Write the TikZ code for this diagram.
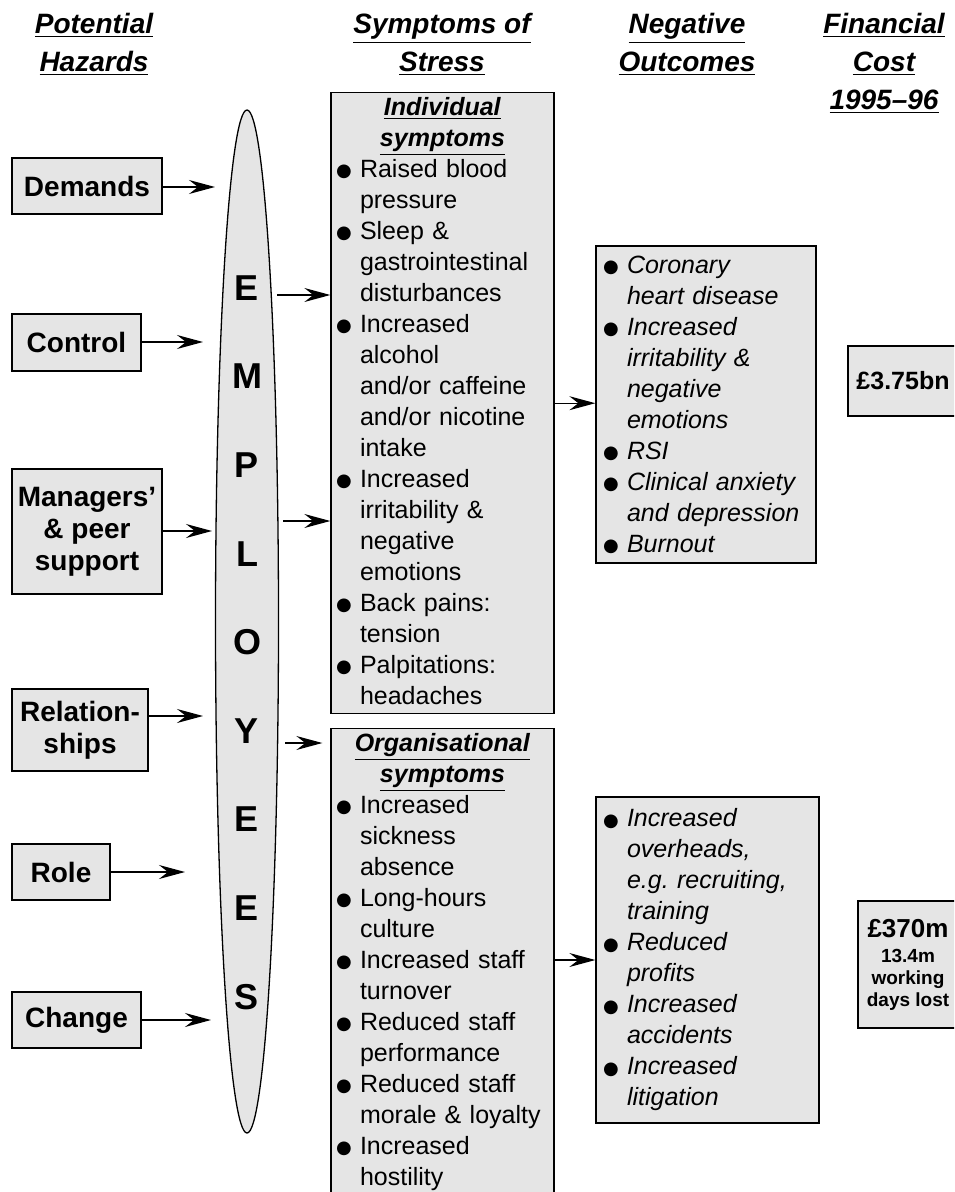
\documentclass[tikz,border=0pt]{standalone}
\usepackage{fontspec}
\setmainfont{Liberation Sans}
\newfontfamily\bulfont{DejaVu Sans}
\usetikzlibrary{arrows.meta,shapes.geometric}

\definecolor{boxgray}{gray}{0.9}
\newcommand{\blt}{\makebox[12pt][l]{\raisebox{0.4pt}{\upshape\mdseries\bulfont\fontsize{9}{9}\selectfont ●}}}
\newcommand{\ind}{\hspace*{12pt}}
\setlength{\parindent}{0pt}

\begin{document}
\begin{tikzpicture}[x=0.5pt, y=-0.5pt,
    box/.style={draw=black, line width=0.65pt, fill=boxgray, inner sep=0pt},
    hazard/.style={box, align=center, font=\fontsize{14}{16}\selectfont\bfseries},
    listbox/.style={box, text width=#1, align=left, inner xsep=2.5pt, inner ysep=2.5pt,
        font=\fontsize{12.5}{15.5}\selectfont},
    outbox/.style={listbox=#1, inner xsep=3.5pt, font=\fontsize{12.5}{15.5}\selectfont\itshape},
    heading/.style={anchor=north, align=center, inner sep=0pt,
        font=\fontsize{14}{19}\selectfont\bfseries\itshape},
    letter/.style={font=\fontsize{18}{18}\selectfont\bfseries},
    arr/.style={-{Stealth[length=13pt, width=7pt, inset=4.5pt]}, line width=0.65pt}]

    % 1. Area del disegno
    \useasboundingbox (0,0) rectangle (954,1192);
    \clip (0,0) rectangle (954,1192);

    % 2. Titoli delle colonne
    \node[heading] (hhaz) at (94,13) {\underline{Potential}\\\underline{Hazards}};
    \node[heading] (hsym) at (442,13) {\underline{Symptoms of}\\\underline{Stress}};
    \node[heading] (hneg) at (687,13) {\underline{Negative}\\\underline{Outcomes}};
    \node[heading] (hcost) at (884,13) {\underline{Financial}\\\underline{Cost}\\\underline{1995–96}};

    % 3. Rischi potenziali a sinistra
    \node[hazard, minimum width=75pt, minimum height=28pt] (dem) at (87,186) {Demands};
    \node[hazard, minimum width=64.5pt, minimum height=28.5pt] (ctl) at (76.5,342.5) {Control};
    \node[hazard, minimum width=75pt, minimum height=62.5pt] (mgr) at (87,531.5) {Managers’\\\& peer\\support};
    \node[hazard, minimum width=68pt, minimum height=41pt] (rel) at (80,730) {Relation-\\ships};
    \node[hazard, minimum width=49pt, minimum height=28pt] (role) at (61,872) {Role};
    \node[hazard, minimum width=64.5pt, minimum height=28pt] (chg) at (76.5,1020) {Change};

    % 4. Ellisse EMPLOYEES
    \node[box, ellipse, minimum width=31.5pt, minimum height=511.5pt] (emp) at (247,621.5) {};
    \foreach \c [count=\i] in {E,M,P,L,O,Y,E,E,S}
        \node[letter] (l\i) at (247,{288+88.6*(\i-1)}) {\c};

    % 5. Sintomi individuali e organizzativi
    \node[listbox=106.5pt, anchor=north] (indiv) at (442.5,92) {
        \hfill\underline{\textbf{\textit{Individual}}}\hfill\null\\
        \hfill\underline{\textbf{\textit{symptoms}}}\hfill\null\\
        \blt Raised blood\\ \ind pressure\\
        \blt Sleep \&\\ \ind gastrointestinal\\ \ind disturbances\\
        \blt Increased\\ \ind alcohol\\ \ind and/or caffeine\\ \ind and/or nicotine\\ \ind intake\\
        \blt Increased\\ \ind irritability \&\\ \ind negative\\ \ind emotions\\
        \blt Back pains:\\ \ind tension\\
        \blt Palpitations:\\ \ind headaches\rule[-2pt]{0pt}{2pt}};
    \node[listbox=106.5pt, anchor=north] (org) at (442.5,728) {
        \hfill\underline{\textbf{\textit{Organisational}}}\hfill\null\\
        \hfill\underline{\textbf{\textit{symptoms}}}\hfill\null\\
        \blt Increased\\ \ind sickness\\ \ind absence\\
        \blt Long-hours\\ \ind culture\\
        \blt Increased staff\\ \ind turnover\\
        \blt Reduced staff\\ \ind performance\\
        \blt Reduced staff\\ \ind morale \& loyalty\\
        \blt Increased\\ \ind hostility\\ \rule{0pt}{14pt}};

    % 6. Esiti negativi
    \node[outbox=103pt, minimum height=158.5pt] (neg1) at (706,404.5) {
        \blt Coronary\\ \ind heart disease\\
        \blt Increased\\ \ind irritability \&\\ \ind negative\\ \ind emotions\\
        \blt RSI\\
        \blt Clinical anxiety\\ \ind and depression\\
        \blt Burnout};
    \node[outbox=104.5pt, minimum height=163pt] (neg2) at (707.5,960) {
        \blt Increased\\ \ind overheads,\\ \ind e.g.\ recruiting,\\ \ind training\\
        \blt Reduced\\ \ind profits\\
        \blt Increased\\ \ind accidents\\
        \blt Increased\\ \ind litigation};

    % 7. Costi finanziari
    \node[box, minimum width=55pt, minimum height=35pt, font=\fontsize{12.5}{15}\selectfont\bfseries] (c1) at (903,381) {£3.75bn};
    \node[box, minimum width=50pt, minimum height=63.5pt, align=center, font=\fontsize{9.5}{11}\selectfont\bfseries] (c2) at (908,964.5)
        {{\fontsize{13}{11}\selectfont £370m}\\[1.5pt] 13.4m\\ working\\ days lost};

    % 8. Frecce dai rischi verso l'ellisse
    \coordinate (tdem) at (215,187);
    \coordinate (tctl) at (203,342);
    \coordinate (tmgr) at (212,531);
    \coordinate (trel) at (203,716);
    \coordinate (trole) at (185,872);
    \coordinate (tchg) at (211,1020);
    \foreach \h in {dem,ctl,mgr,rel,role,chg}
        \draw[arr] (\h.east |- t\h) -- (t\h);

    % 9. Frecce dall'ellisse verso i sintomi
    \coordinate (o1) at (277,295);
    \coordinate (o2) at (283,521);
    \coordinate (o3) at (285,743);
    \draw[arr] (o1) -- (o1 -| indiv.west);
    \draw[arr] (o2) -- (o2 -| indiv.west);
    \draw[arr, shorten >=4pt] (o3) -- (o3 -| org.west);

    % 10. Frecce verso gli esiti negativi
    \draw[arr] (indiv.east) -- (indiv.east -| neg1.west);
    \draw[arr] (neg2.west -| org.east) -- (neg2.west);

\end{tikzpicture}
\end{document}
